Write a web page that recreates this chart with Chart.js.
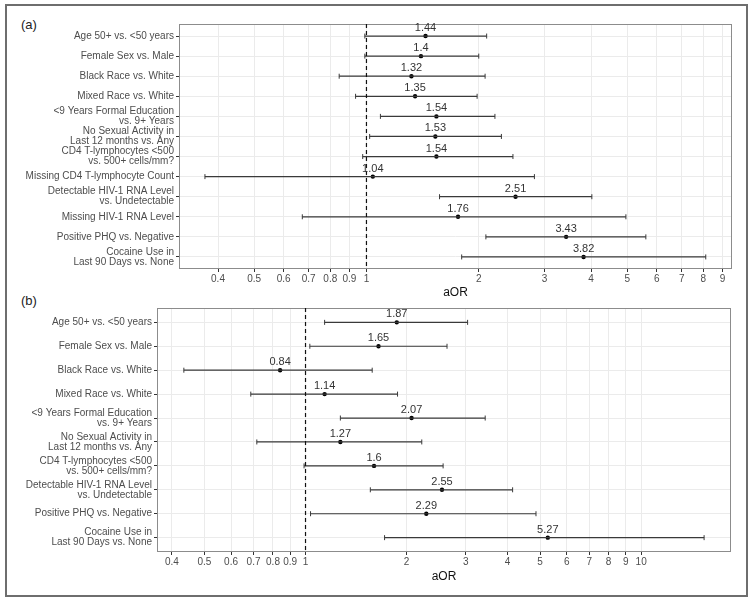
<!DOCTYPE html>
<html>
<head>
<meta charset="utf-8">
<script src="https://cdn.jsdelivr.net/npm/chart.js@4"></script>
<style>
body { margin: 0; background: #fff; }
#wrap { position: relative; width: 754px; height: 602px; font-family: 'Liberation Sans', Arial, sans-serif; }
#frame { position: absolute; left: 5px; top: 4px; width: 739px; height: 589px; border: 2px solid #6e6e6e; }
canvas { position: absolute; left: 0; }
#ca { top: 0; }
#cb { top: 300px; }
.tag { position: absolute; font-size: 13px; color: #222; }
</style>
</head>
<body>
<div id="wrap">
  <div id="frame"></div>
  <div class="tag" style="left:21px;top:17px">(a)</div>
  <div class="tag" style="left:21px;top:293px">(b)</div>
  <canvas id="ca" width="754" height="302"></canvas>
  <canvas id="cb" width="754" height="297"></canvas>
</div>
<script>
// panel (a)
const labelsA = [
    'Age 50+ vs. <50 years',
    'Female Sex vs. Male',
    'Black Race vs. White',
    'Mixed Race vs. White',
    '<9 Years Formal Education\nvs. 9+ Years',
    'No Sexual Activity in\nLast 12 months vs. Any',
    'CD4 T-lymphocytes <500\nvs. 500+ cells/mm?',
    'Missing CD4 T-lymphocyte Count',
    'Detectable HIV-1 RNA Level\nvs. Undetectable',
    'Missing HIV-1 RNA Level',
    'Positive PHQ vs. Negative',
    'Cocaine Use in\nLast 90 Days vs. None'
]
const estA = [1.44, 1.4, 1.32, 1.35, 1.54, 1.53, 1.54, 1.04, 2.51, 1.76, 3.43, 3.82]
const lowA = [0.99, 0.99, 0.845, 0.935, 1.09, 1.02, 0.977, 0.369, 1.57, 0.673, 2.09, 1.80]
const highA = [2.10, 2.00, 2.08, 1.98, 2.21, 2.30, 2.47, 2.82, 4.02, 4.96, 5.61, 8.12]
const ticksA = [0.4, 0.5, 0.6, 0.7, 0.8, 0.9, 1, 2, 3, 4, 5, 6, 7, 8, 9]

// panel (b)
const labelsB = [
    'Age 50+ vs. <50 years',
    'Female Sex vs. Male',
    'Black Race vs. White',
    'Mixed Race vs. White',
    '<9 Years Formal Education\nvs. 9+ Years',
    'No Sexual Activity in\nLast 12 months vs. Any',
    'CD4 T-lymphocytes <500\nvs. 500+ cells/mm?',
    'Detectable HIV-1 RNA Level\nvs. Undetectable',
    'Positive PHQ vs. Negative',
    'Cocaine Use in\nLast 90 Days vs. None'
]
const estB = [1.87, 1.65, 0.84, 1.14, 2.07, 1.27, 1.6, 2.55, 2.29, 5.27]
const lowB = [1.14, 1.03, 0.434, 0.687, 1.27, 0.716, 0.99, 1.56, 1.035, 1.72]
const highB = [3.04, 2.64, 1.58, 1.88, 3.43, 2.22, 2.57, 4.14, 4.86, 15.4]
const ticksB = [0.4, 0.5, 0.6, 0.7, 0.8, 0.9, 1, 2, 3, 4, 5, 6, 7, 8, 9, 10]

Chart.defaults.font.family = "'Liberation Sans', Arial, sans-serif"

// grey box around the plot area
const panelBox = {
    id: 'panelBox',
    beforeDatasetsDraw(chart) {
        const a = chart.chartArea
        const c = chart.ctx
        c.save()
        c.strokeStyle = '#8c8c8c'
        c.lineWidth = 1
        c.strokeRect(Math.round(a.left) + 0.5, Math.round(a.top) + 0.5, Math.round(a.right - a.left) - 1, Math.round(a.bottom - a.top) - 1)
        c.restore()
    }
}

// numbers above the estimate dots
const valueLabels = {
    id: 'valueLabels',
    afterDatasetsDraw(chart) {
        const ds = chart.data.datasets[3]
        const meta = chart.getDatasetMeta(3)
        const c = chart.ctx
        c.save()
        c.font = "11px 'Liberation Sans', Arial, sans-serif"
        c.fillStyle = '#333'
        c.textAlign = 'center'
        c.textBaseline = 'middle'
        meta.data.forEach(function(pt, i) {
            c.fillText(String(ds.data[i].x), pt.x, pt.y - 8)
        })
        c.restore()
    }
}

function makeChart(canvas, labels, est, low, high, xMin, xMax, xTicks, yWidth, xHeight, pad) {
    let bars = []
    let caps = []
    let dots = []
    for (let i = 0; i < labels.length; i++) {
        bars.push({x: low[i], y: i}, {x: high[i], y: i}, {x: NaN, y: NaN})
        caps.push({x: low[i], y: i}, {x: high[i], y: i})
        dots.push({x: est[i], y: i})
    }
    const yMax = labels.length - 0.4
    return new Chart(canvas, {
        type: 'scatter',
        data: {
            datasets: [
                {
                    data: [{x: 1, y: -0.6}, {x: 1, y: yMax}],
                    showLine: true,
                    borderColor: '#111',
                    borderWidth: 1.2,
                    borderDash: [4, 3],
                    pointRadius: 0
                },
                {
                    data: bars,
                    showLine: true,
                    spanGaps: false,
                    borderColor: '#3a3a3a',
                    borderWidth: 1.2,
                    pointRadius: 0
                },
                {
                    data: caps,
                    pointStyle: 'line',
                    rotation: 90,
                    radius: 2.5,
                    borderColor: '#3a3a3a',
                    borderWidth: 1
                },
                {
                    data: dots,
                    pointRadius: 2.2,
                    backgroundColor: '#000',
                    borderWidth: 0
                }
            ]
        },
        options: {
            responsive: false,
            animation: false,
            layout: { padding: pad },
            plugins: { legend: { display: false }, tooltip: { enabled: false } },
            scales: {
                x: {
                    type: 'logarithmic',
                    min: xMin,
                    max: xMax,
                    // the log scale rounds min, so put the exact limits back
                    afterBuildTicks: function(s) {
                        s.ticks = xTicks.map(v => ({value: v}))
                        s.min = xMin
                        s.max = xMax
                    },
                    afterFit: function(s) { s.height = xHeight; s.paddingLeft = 0; s.paddingRight = 0 },
                    ticks: {
                        autoSkip: false,
                        maxRotation: 0,
                        padding: 1,
                        color: '#4d4d4d',
                        font: { size: 10 },
                        callback: v => String(v)
                    },
                    grid: { color: '#ebebeb', tickColor: '#333', tickLength: 3, lineWidth: 1 },
                    border: { display: false },
                    title: { display: true, text: 'aOR', color: '#111', font: { size: 12 }, padding: 0 }
                },
                y: {
                    type: 'linear',
                    reverse: true,
                    min: -0.6,
                    max: yMax,
                    afterBuildTicks: function(s) { s.ticks = labels.map((_, i) => ({value: i})) },
                    afterFit: function(s) { s.width = yWidth; s.paddingTop = 0; s.paddingBottom = 0 },
                    ticks: {
                        autoSkip: false,
                        padding: 2,
                        color: '#4d4d4d',
                        font: { size: 10, lineHeight: 1 },
                        callback: v => labels[v].split('\n')
                    },
                    grid: { color: '#ebebeb', tickColor: '#333', tickLength: 3, lineWidth: 1 },
                    border: { display: false }
                }
            }
        },
        plugins: [panelBox, valueLabels]
    })
}

makeChart(document.querySelector('#ca'), labelsA, estA, lowA, highA, 0.3144, 9.548, ticksA, 179, 31,
    {top: 24, right: 22, bottom: 2, left: 0})
makeChart(document.querySelector('#cb'), labelsB, estB, lowB, highB, 0.361, 18.52, ticksB, 157, 32,
    {top: 8, right: 23, bottom: 13, left: 0})
</script>
</body>
</html>
